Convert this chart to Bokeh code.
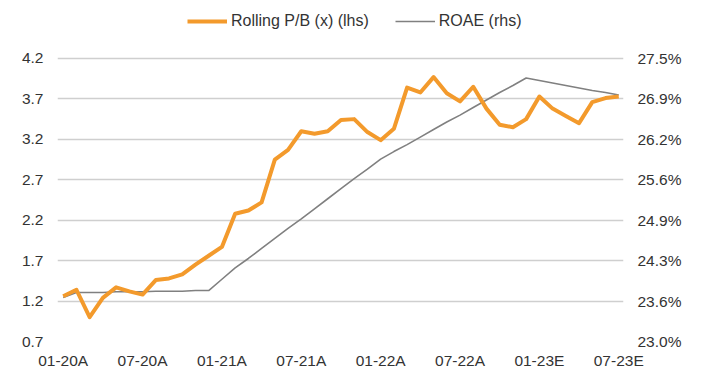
from bokeh.plotting import figure
from bokeh.models import (Range1d, LinearAxis, FixedTicker, PrintfTickFormatter,
                          CustomJSTickFormatter, Legend, LegendItem, ColumnDataSource)
from bokeh.embed import file_html
from bokeh.resources import INLINE

# ---- data (monthly, Jan 2020 .. Jul 2023) ----
rolling_pb = [1.26, 1.34, 1.00, 1.24, 1.37, 1.32, 1.28, 1.46, 1.48, 1.53,
              1.65, 1.76, 1.87, 2.28, 2.32, 2.42, 2.95, 3.07, 3.30, 3.27,
              3.30, 3.44, 3.45, 3.29, 3.19, 3.33, 3.84, 3.78, 3.97, 3.77,
              3.67, 3.85, 3.58, 3.38, 3.35, 3.45, 3.73, 3.58, 3.49, 3.40,
              3.66, 3.71, 3.73]
roae = [23.70, 23.78, 23.78, 23.78, 23.79, 23.79, 23.79, 23.80, 23.80, 23.80,
        23.81, 23.81, 23.99, 24.17, 24.32, 24.48, 24.64, 24.80, 24.95, 25.11,
        25.27, 25.43, 25.59, 25.74, 25.90, 26.02, 26.13, 26.25, 26.37, 26.49,
        26.60, 26.72, 26.84, 26.96, 27.07, 27.19, 27.15, 27.11, 27.07, 27.03,
        26.99, 26.96, 26.92]
month_index = list(range(len(rolling_pb)))
tick_labels = ["01-20A", "07-20A", "01-21A", "07-21A", "01-22A", "07-22A", "01-23E", "07-23E"]
tick_positions = [0, 6, 12, 18, 24, 30, 36, 42]
left_ticks = [0.7, 1.2, 1.7, 2.2, 2.7, 3.2, 3.7, 4.2]
right_ticks = [23.0, 23.643, 24.286, 24.929, 25.571, 26.214, 26.857, 27.5]

ORANGE = "#F39A2C"
GREY = "#808080"
TXT = "#333333"
FONT = "Liberation Sans"
FS = "15.5px"

src = ColumnDataSource(dict(x=month_index, pb=rolling_pb, roae=roae))

# frame extends above the top gridline to leave room for the legend
p = figure(width=704, height=378, output_backend="svg", toolbar_location=None,
           x_range=Range1d(-0.43, 42.36), y_range=Range1d(0.7, 4.818),
           min_border_left=57, min_border_right=81, min_border_top=8,
           min_border_bottom=37)
p.extra_y_ranges = {"roae": Range1d(23.0, 28.295)}
p.outline_line_color = None
p.background_fill_color = "white"
p.border_fill_color = "white"

# grid
p.xgrid.grid_line_color = None
p.ygrid.grid_line_color = "#cfcfcf"
p.ygrid.grid_line_width = 1.5
p.ygrid.ticker = FixedTicker(ticks=left_ticks)

# left axis
ya = p.yaxis[0]
ya.ticker = FixedTicker(ticks=left_ticks)
ya.formatter = PrintfTickFormatter(format="%.1f")

# right axis
ra = LinearAxis(y_range_name="roae", ticker=FixedTicker(ticks=right_ticks),
                formatter=CustomJSTickFormatter(code="return tick.toFixed(1) + '%';"))
p.add_layout(ra, "right")

# x axis
xa = p.xaxis[0]
xa.ticker = FixedTicker(ticks=tick_positions)
xa.major_label_overrides = {pos: lab for pos, lab in zip(tick_positions, tick_labels)}

for ax in [xa, ya, ra]:
    ax.axis_line_color = None
    ax.major_tick_line_color = None
    ax.minor_tick_line_color = None
    ax.major_tick_out = 0
    ax.major_tick_in = 0
    ax.major_label_text_font = FONT
    ax.major_label_text_font_size = FS
    ax.major_label_text_color = TXT
ya.major_label_standoff = 14
ra.major_label_standoff = 14
xa.major_label_standoff = 10

r_roae = p.line("x", "roae", source=src, y_range_name="roae", line_color=GREY, line_width=1.6)
r_pb = p.line("x", "pb", source=src, line_color=ORANGE, line_width=4, line_join="round")

legend = Legend(items=[LegendItem(label="Rolling P/B (x) (lhs)", renderers=[r_pb]),
                       LegendItem(label="ROAE (rhs)", renderers=[r_roae])],
                orientation="horizontal", location=(130, 310),
                glyph_width=40, label_standoff=4, spacing=26, padding=0, margin=0,
                label_text_font=FONT, label_text_font_size="16px", label_text_color=TXT,
                border_line_color=None, background_fill_alpha=0)
p.add_layout(legend, "center")

open("out.html", "w").write(file_html(p, INLINE))
